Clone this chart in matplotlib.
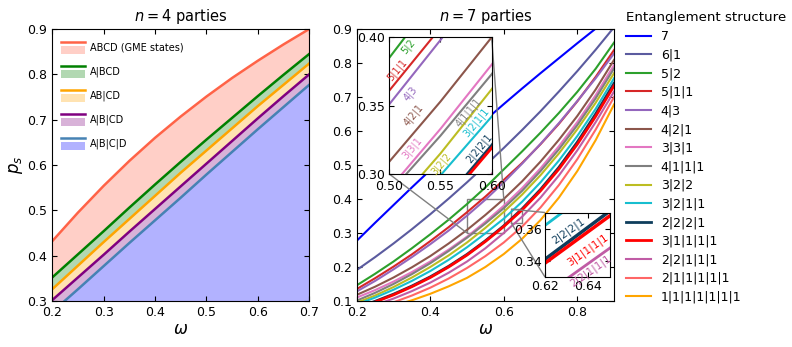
import matplotlib
matplotlib.use('Agg')
import matplotlib.pyplot as plt
from matplotlib.legend_handler import HandlerBase
from matplotlib.lines import Line2D
from matplotlib.patches import Rectangle
from matplotlib.ticker import FormatStrFormatter
from mpl_toolkits.axes_grid1.inset_locator import mark_inset

# ---- n = 4 data ----
omega4 = [0.20, 0.25, 0.30, 0.35, 0.40, 0.45, 0.50, 0.55, 0.60, 0.65, 0.70]
ps_abcd = [0.432, 0.495, 0.554, 0.609, 0.660, 0.707, 0.751, 0.792, 0.830, 0.866, 0.900]
ps_a_bcd = [0.352, 0.403, 0.454, 0.506, 0.557, 0.607, 0.656, 0.704, 0.752, 0.799, 0.845]
ps_ab_cd = [0.326, 0.378, 0.430, 0.481, 0.532, 0.583, 0.632, 0.681, 0.730, 0.777, 0.824]
ps_a_b_cd = [0.302, 0.352, 0.402, 0.453, 0.503, 0.553, 0.603, 0.653, 0.703, 0.752, 0.800]
ps_a_b_c_d = [0.276, 0.326, 0.377, 0.428, 0.478, 0.528, 0.579, 0.629, 0.679, 0.728, 0.777]

labels4 = ['ABCD (GME states)', 'A|BCD', 'AB|CD', 'A|B|CD', 'A|B|C|D']

# ---- n = 7 data ----
omega7 = [0.20, 0.25, 0.30, 0.35, 0.40, 0.45, 0.50, 0.55,
          0.60, 0.65, 0.70, 0.75, 0.80, 0.85, 0.90]
structures7 = ['7', '6|1', '5|2', '5|1|1', '4|3', '4|2|1', '3|3|1', '4|1|1|1',
               '3|2|2', '3|2|1|1', '2|2|2|1', '3|1|1|1|1', '2|2|1|1|1',
               '2|1|1|1|1|1', '1|1|1|1|1|1|1']
ps7 = [
    [0.277, 0.330, 0.382, 0.434, 0.485, 0.535, 0.584, 0.632, 0.679, 0.725, 0.770, 0.814, 0.858, 0.901, 0.943],
    [0.191, 0.229, 0.269, 0.311, 0.355, 0.401, 0.449, 0.499, 0.550, 0.603, 0.658, 0.716, 0.776, 0.839, 0.905],
    [0.146, 0.180, 0.216, 0.255, 0.296, 0.339, 0.385, 0.434, 0.487, 0.540, 0.595, 0.653, 0.715, 0.783, 0.860],
    [0.135, 0.167, 0.201, 0.237, 0.276, 0.317, 0.361, 0.407, 0.456, 0.506, 0.561, 0.621, 0.687, 0.759, 0.838],
    [0.128, 0.159, 0.193, 0.229, 0.267, 0.307, 0.351, 0.398, 0.449, 0.504, 0.562, 0.623, 0.688, 0.755, 0.828],
    [0.118, 0.142, 0.169, 0.199, 0.232, 0.269, 0.309, 0.353, 0.400, 0.452, 0.510, 0.574, 0.644, 0.722, 0.809],
    [0.110, 0.132, 0.157, 0.185, 0.216, 0.251, 0.289, 0.333, 0.380, 0.432, 0.490, 0.555, 0.626, 0.705, 0.794],
    [0.101, 0.124, 0.150, 0.179, 0.211, 0.247, 0.286, 0.328, 0.373, 0.424, 0.482, 0.546, 0.617, 0.696, 0.784],
    [0.095, 0.116, 0.141, 0.169, 0.200, 0.234, 0.272, 0.315, 0.362, 0.413, 0.470, 0.534, 0.605, 0.683, 0.770],
    [0.090, 0.110, 0.133, 0.159, 0.188, 0.221, 0.258, 0.299, 0.342, 0.392, 0.449, 0.513, 0.585, 0.665, 0.755],
    [0.080, 0.099, 0.120, 0.144, 0.171, 0.202, 0.237, 0.277, 0.321, 0.371, 0.428, 0.493, 0.567, 0.650, 0.740],
    [0.079, 0.097, 0.118, 0.142, 0.169, 0.200, 0.235, 0.275, 0.319, 0.368, 0.424, 0.488, 0.561, 0.643, 0.733],
    [0.072, 0.088, 0.107, 0.129, 0.154, 0.183, 0.216, 0.255, 0.300, 0.348, 0.404, 0.469, 0.543, 0.626, 0.716],
    [0.065, 0.079, 0.096, 0.116, 0.139, 0.166, 0.197, 0.232, 0.272, 0.319, 0.375, 0.441, 0.517, 0.604, 0.700],
    [0.060, 0.072, 0.086, 0.102, 0.121, 0.143, 0.168, 0.200, 0.238, 0.283, 0.338, 0.404, 0.482, 0.573, 0.678],
]
colors7 = ['blue', '#5b5b9f', '#2ca02c', '#d62728', '#9467bd', '#8c564b', '#e377c2',
           '#7f7f7f', '#bcbd22', '#17becf', '#0e3d5c', 'red', '#c05ca5', '#ff6666', 'orange']

# labels written inside the zoom insets: (text, curve index, omega, p_s)
inset1_labels = [('5|2', 2, 0.5185, 0.3935), ('5|1|1', 3, 0.508, 0.376),
                 ('4|3', 4, 0.521, 0.359), ('4|2|1', 5, 0.524, 0.343),
                 ('3|3|1', 6, 0.522, 0.319), ('4|1|1|1', 7, 0.577, 0.345),
                 ('3|2|2', 8, 0.551, 0.307), ('3|2|1|1', 9, 0.585, 0.338),
                 ('2|2|2|1', 10, 0.588, 0.319)]
inset2_labels = [('2|2|2|1', 10, 0.631, 0.3585), ('3|1|1|1|1', 11, 0.6395, 0.3465),
                 ('2|2|1|1|1', 12, 0.641, 0.3335)]

plt.rcParams.update({
    'font.size': 9,
    'mathtext.fontset': 'dejavusans',
    'xtick.direction': 'in',
    'ytick.direction': 'in',
    'xtick.top': True,
    'ytick.right': True,
})


class LineAboveFill(HandlerBase):
    # legend key: the line on top, the shaded band just below it
    def create_artists(self, legend, orig_handle, xdescent, ydescent,
                       width, height, fontsize, trans):
        line, band = orig_handle
        x0, y0 = -xdescent, -ydescent
        rect = Rectangle((x0, y0), width, height * 0.62,
                         facecolor=band.get_facecolor()[0], edgecolor='none',
                         transform=trans)
        ln = Line2D([x0, x0 + width], [y0 + height, y0 + height],
                    color=line.get_color(), lw=line.get_linewidth(),
                    transform=trans)
        return [rect, ln]


fig = plt.figure(figsize=(7.92, 3.47), dpi=100)

# ---------------- n = 4 panel ----------------
ax1 = fig.add_axes([0.066, 0.1326, 0.3245, 0.7839])
curves4 = [ps_abcd, ps_a_bcd, ps_ab_cd, ps_a_b_cd, ps_a_b_c_d]
colors4 = ['tomato', 'green', 'orange', 'purple', 'steelblue']
fills4 = ['tomato', 'green', 'orange', 'purple', 'blue']
lower = curves4[1:] + [[0.0] * len(omega4)]

handles4 = []
for upper, low, c, fc in zip(curves4, lower, colors4, fills4):
    band = ax1.fill_between(omega4, low, upper, color=fc, alpha=0.3, lw=0)
    line, = ax1.plot(omega4, upper, color=c, lw=1.8)
    handles4.append((line, band))

ax1.set_xlim(0.2, 0.7)
ax1.set_ylim(0.3, 0.9)
ax1.set_xticks([0.2, 0.3, 0.4, 0.5, 0.6, 0.7])
ax1.set_yticks([0.3, 0.4, 0.5, 0.6, 0.7, 0.8, 0.9])
ax1.set_title('$n=4$ parties', fontsize=10.5)
ax1.set_xlabel(r'$\omega$', fontsize=12, labelpad=1)
ax1.set_ylabel(r'$p_s$', fontsize=12, labelpad=2)
ax1.legend(handles4, labels4, handler_map={tuple: LineAboveFill()},
           loc='upper left', bbox_to_anchor=(0.0, 0.985), frameon=False, fontsize=7,
           handlelength=2.5, handleheight=1.5, labelspacing=1.25, handletextpad=0.5)

# ---------------- n = 7 panel ----------------
ax2 = fig.add_axes([0.4504, 0.1326, 0.3249, 0.7839])
axins1 = fig.add_axes([0.4915, 0.4986, 0.1293, 0.3939])
axins2 = fig.add_axes([0.6881, 0.2017, 0.0821, 0.1859])

for ys, c, name in zip(ps7, colors7, structures7):
    lw = 2.0 if name in ('3|1|1|1|1', '2|2|2|1') else 1.5
    ax2.plot(omega7, ys, color=c, lw=lw, label=name)
    axins1.plot(omega7, ys, color=c, lw=lw)
    axins2.plot(omega7, ys, color=c, lw=lw + 0.5)

ax2.set_xlim(0.2, 0.9)
ax2.set_ylim(0.1, 0.9)
ax2.set_xticks([0.2, 0.4, 0.6, 0.8])
ax2.set_yticks([0.1, 0.2, 0.3, 0.4, 0.5, 0.6, 0.7, 0.8, 0.9])
ax2.set_title('$n=7$ parties', fontsize=10.5)
ax2.set_xlabel(r'$\omega$', fontsize=12, labelpad=1)

axins1.set_xlim(0.5, 0.6)
axins1.set_ylim(0.3, 0.4)
axins1.set_xticks([0.50, 0.55, 0.60])
axins1.set_yticks([0.30, 0.35, 0.40])
axins1.xaxis.set_major_formatter(FormatStrFormatter('%.2f'))
axins1.yaxis.set_major_formatter(FormatStrFormatter('%.2f'))
axins1.tick_params(axis='y', pad=3)
axins1.tick_params(axis='x', pad=4.5)
for text, i, x, y in inset1_labels:
    axins1.text(x, y, text, color=colors7[i], fontsize=7, rotation=50,
                ha='center', va='center')
mark_inset(ax2, axins1, loc1=1, loc2=3, fc='none', ec='0.5', lw=1)

axins2.set_xlim(0.62, 0.65)
axins2.set_ylim(0.33, 0.37)
axins2.set_xticks([0.62, 0.64])
axins2.set_yticks([0.34, 0.36])
axins2.tick_params(pad=2.5)
for text, i, x, y in inset2_labels:
    axins2.text(x, y, text, color=colors7[i], fontsize=7.5, rotation=35,
                ha='center', va='center')
mark_inset(ax2, axins2, loc1=2, loc2=3, fc='none', ec='0.5', lw=1)

fig.legend(handles=ax2.get_lines(), loc='upper left', bbox_to_anchor=(0.776, 1.0),
           frameon=False, fontsize=9, title='Entanglement structure',
           title_fontsize=9.6, alignment='left', labelspacing=0.45)

fig.savefig('out.png', dpi=100)
